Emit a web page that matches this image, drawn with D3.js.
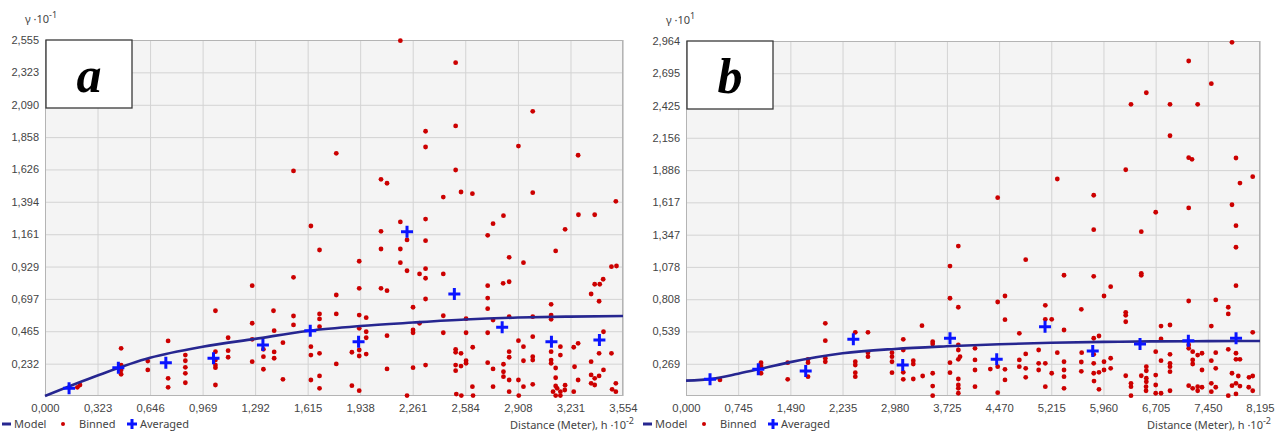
<!DOCTYPE html>
<html>
<head>
<meta charset="utf-8">
<script src="https://cdn.jsdelivr.net/npm/d3@7"></script>
<style>
  html, body { margin: 0; padding: 0; background: #fff; }
  svg { display: block; font-family: "Noto Sans", "Open Sans", sans-serif; }
</style>
</head>
<body>
<div id="chart"></div>
<script>
// Panel a: semivariogram (γ ·10^-1 vs distance h ·10^-2)
const xTicksA = [0, 0.323, 0.646, 0.969, 1.292, 1.615, 1.938, 2.261, 2.584, 2.908, 3.231, 3.554];
const yTicksA = [0.232, 0.465, 0.697, 0.929, 1.161, 1.394, 1.626, 1.858, 2.090, 2.323, 2.555];
const modelA = [[0, 0], [0.323, 0.147], [0.646, 0.274], [0.969, 0.353], [1.292, 0.41], [1.615, 0.467],
  [1.938, 0.502], [2.261, 0.527], [2.584, 0.549], [2.908, 0.563], [3.231, 0.570], [3.554, 0.574]];
const averagedA = [[0.148, 0.055], [0.451, 0.203], [0.743, 0.239], [1.036, 0.271], [1.340, 0.366], [1.631, 0.469],
  [1.928, 0.390], [2.226, 1.179], [2.517, 0.732], [2.811, 0.493], [3.114, 0.390], [3.409, 0.402]];
const binnedA = [
  [1.528,1.615],[1.635,1.220],[1.688,1.048],[1.528,0.852],[1.274,0.792],[1.405,0.612],[1.048,0.612],[1.528,0.574],
  [1.688,0.589],[1.688,0.553],[1.688,0.497],[1.528,0.510],[1.274,0.522],[1.409,0.469],[1.463,0.383],[1.635,0.354],
  [1.126,0.418],[1.274,0.407],[1.343,0.335],[1.409,0.316],[1.126,0.325],[1.126,0.278],[1.343,0.282],[1.409,0.271],
  [1.635,0.294],[1.688,0.306],[1.274,0.246],[1.048,0.318],[1.048,0.258],[1.048,0.222],[1.048,0.203],[0.863,0.294],
  [0.863,0.253],[0.863,0.206],[0.863,0.163],[0.757,0.395],[0.632,0.251],[0.632,0.187],[0.468,0.342],[0.468,0.222],
  [0.468,0.156],[0.757,0.127],[0.757,0.062],[0.863,0.095],[1.048,0.079],[1.343,0.192],[1.463,0.120],[1.635,0.115],
  [1.688,0.144],[1.688,0.055],[0.215,0.079],[0.199,0.062],[0.468,0.187],
  [2.185,2.550],[2.525,2.392],[2.999,2.043],[2.340,1.900],[2.525,1.938],[2.340,1.787],[2.911,1.794],[3.278,1.728],
  [1.791,1.742],[2.525,1.622],[2.066,1.555],[2.103,1.527],[2.449,1.428],[2.558,1.464],[2.628,1.452],[2.999,1.459],
  [3.510,1.397],[2.819,1.294],[2.755,1.237],[3.280,1.301],[3.380,1.301],[2.340,1.270],[2.185,1.249],[2.066,1.182],
  [2.722,1.153],[3.198,1.196],[2.226,1.120],[2.340,1.115],[2.066,1.055],[2.185,1.055],[3.140,1.041],[2.854,0.995],
  [2.942,0.957],[2.185,0.957],[1.932,0.967],[2.226,0.899],[2.340,0.914],[2.340,0.845],[2.303,0.876],[2.449,0.876],
  [3.483,0.928],[3.514,0.933],[3.432,0.838],[3.380,0.802],[3.411,0.802],[2.817,0.809],[2.854,0.820],[2.722,0.792],
  [2.066,0.773],[2.103,0.756],[1.932,0.773],[1.791,0.725],[3.358,0.732],[3.407,0.680],[2.340,0.696],[2.722,0.703],
  [3.112,0.658],[2.263,0.637],[2.722,0.627],[1.791,0.589],[1.932,0.581],[1.975,0.562],[2.449,0.576],[2.854,0.569],
  [2.999,0.569],[3.112,0.581],[3.112,0.550],[2.755,0.545],[2.589,0.555],[2.303,0.522],[1.932,0.486],[1.975,0.461],
  [2.263,0.474],[2.263,0.454],[2.449,0.454],[2.589,0.454],[2.722,0.454],[3.434,0.461],[2.103,0.433],[1.975,0.418],
  [2.911,0.397],[2.942,0.354],[2.999,0.426],[3.278,0.378],[3.251,0.350],[3.169,0.354],[3.169,0.294],[3.407,0.306],
  [3.483,0.306],[2.630,0.350],[2.525,0.335],[2.525,0.314],[2.558,0.306],[2.589,0.253],[2.589,0.235],[2.525,0.222],
  [2.558,0.215],[2.525,0.182],[1.932,0.330],[1.932,0.287],[1.887,0.314],[1.975,0.301],[1.791,0.230],[2.103,0.194],
  [2.263,0.203],[2.340,0.222],[2.722,0.239],[2.755,0.194],[2.819,0.228],[2.819,0.174],[2.854,0.318],[2.854,0.278],
  [2.942,0.253],[2.999,0.282],[2.999,0.258],[3.112,0.258],[3.112,0.235],[3.140,0.201],[3.256,0.210],[3.358,0.246],
  [3.358,0.151],[3.380,0.127],[3.407,0.144],[3.434,0.187],[3.278,0.115],[3.198,0.077],[3.140,0.131],[3.140,0.072],
  [2.999,0.084],[2.854,0.115],[2.819,0.139],[2.911,0.115],[2.942,0.067],[2.755,0.067],[2.628,0.067],[1.887,0.074],
  [3.510,0.091],[3.358,0.091],[3.380,0.079],[2.226,0.003],[2.529,0.014],[2.560,0.003],[2.632,0.003],[2.854,0.031],
  [2.913,0.003],[3.124,0.031],[3.140,0.003],[3.169,0.031],[3.169,0.003],[3.196,0.043],[3.251,0.031],[3.487,0.048],
  [3.510,0.031],[1.932,0.038],[3.149,0.055],[3.112,0.318]
];

// Panel b: semivariogram (γ ·10^1 vs distance h ·10^-2)
const xTicksB = [0, 0.745, 1.490, 2.235, 2.980, 3.725, 4.470, 5.215, 5.960, 6.705, 7.450, 8.195];
const yTicksB = [0.269, 0.539, 0.808, 1.078, 1.347, 1.617, 1.886, 2.156, 2.425, 2.695, 2.964];
const modelB = [[0, 0.128], [0.373, 0.143], [0.745, 0.186], [1.118, 0.234], [1.490, 0.283], [2.235, 0.357],
  [2.980, 0.393], [3.725, 0.415], [4.470, 0.432], [5.215, 0.445], [5.960, 0.452], [6.705, 0.456],
  [7.450, 0.458], [8.195, 0.459]];
const averagedB = [[0.343, 0.139], [1.032, 0.223], [1.709, 0.209], [2.389, 0.473], [3.094, 0.259], [3.769, 0.482],
  [4.436, 0.306], [5.126, 0.578], [5.807, 0.376], [6.482, 0.434], [7.172, 0.462], [7.853, 0.482]];
const binnedB = [
  [3.888,1.252],[3.769,1.085],[3.769,0.816],[3.888,0.741],[3.369,0.587],[1.989,0.607],[1.989,0.462],[2.598,0.532],
  [2.417,0.532],[2.598,0.362],[2.598,0.328],[3.102,0.473],[3.102,0.384],[3.522,0.453],[3.522,0.434],[3.888,0.426],
  [3.888,0.384],[3.888,0.306],[3.769,0.278],[3.769,0.195],[2.941,0.362],[2.941,0.328],[2.941,0.286],[2.941,0.195],
  [3.245,0.295],[3.245,0.267],[3.102,0.198],[3.102,0.139],[3.245,0.142],[3.379,0.167],[3.522,0.190],[3.522,0.083],
  [3.888,0.142],[3.888,0.092],[3.888,0.064],[2.417,0.286],[2.417,0.259],[2.417,0.195],[2.417,0.161],[1.989,0.315],
  [1.989,0.286],[1.742,0.306],[1.742,0.278],[1.742,0.161],[1.452,0.278],[1.452,0.139],[1.071,0.278],[1.071,0.250],
  [1.071,0.190],[0.485,0.134],[3.522,0.003],[3.888,0.023],
  [7.795,2.953],[7.177,2.797],[7.500,2.608],[6.572,2.532],[6.353,2.435],[6.910,2.435],[7.305,2.435],[6.910,2.173],
  [7.177,1.990],[7.224,1.976],[7.852,1.987],[6.278,1.889],[8.091,1.831],[7.909,1.778],[5.301,1.812],[4.450,1.656],
  [5.821,1.676],[7.795,1.597],[7.177,1.570],[6.706,1.534],[7.852,1.422],[5.821,1.389],[6.500,1.372],[7.852,1.242],
  [4.850,1.138],[5.397,1.008],[5.821,0.999],[6.500,1.024],[6.500,1.008],[7.852,0.921],[6.063,0.913],[5.968,0.835],
  [4.554,0.835],[4.450,0.785],[7.177,0.793],[7.563,0.802],[5.130,0.757],[5.644,0.724],[6.278,0.699],[6.278,0.674],
  [6.278,0.620],[7.742,0.741],[7.742,0.685],[4.554,0.637],[5.130,0.640],[5.221,0.640],[4.759,0.523],[5.397,0.551],
  [6.782,0.584],[6.910,0.593],[7.500,0.584],[8.091,0.532],[5.896,0.501],[5.821,0.482],[6.782,0.476],[7.177,0.426],
  [7.177,0.398],[4.126,0.398],[5.035,0.384],[5.301,0.362],[4.850,0.351],[5.649,0.362],[5.821,0.348],[6.706,0.370],
  [6.910,0.348],[7.234,0.370],[7.305,0.342],[7.367,0.357],[7.563,0.362],[7.742,0.390],[7.852,0.357],[7.852,0.306],
  [7.909,0.306],[4.126,0.301],[3.912,0.328],[4.345,0.225],[4.450,0.245],[4.554,0.223],[4.759,0.301],[4.759,0.245],
  [4.850,0.231],[5.035,0.273],[5.130,0.273],[5.035,0.217],[5.397,0.286],[5.397,0.217],[5.397,0.161],[5.644,0.284],
  [5.821,0.273],[5.644,0.206],[5.968,0.286],[6.063,0.315],[5.968,0.217],[6.063,0.231],[5.896,0.198],[6.278,0.169],
  [6.500,0.169],[6.572,0.245],[6.572,0.211],[6.572,0.148],[6.572,0.119],[6.706,0.175],[6.706,0.092],[6.782,0.295],
  [6.910,0.273],[6.910,0.245],[6.910,0.203],[7.234,0.301],[7.234,0.267],[7.367,0.217],[7.500,0.295],[7.563,0.231],
  [7.795,0.190],[7.885,0.167],[8.038,0.156],[8.091,0.167],[7.177,0.086],[7.234,0.064],[7.305,0.078],[7.795,0.086],
  [7.852,0.106],[7.909,0.083],[7.500,0.106],[6.353,0.106],[6.353,0.078],[4.126,0.078],[4.554,0.134],[4.450,0.028],
  [5.130,0.078],[5.397,0.064],[5.896,0.056],[6.353,0.003],[6.568,0.078],[6.568,0.044],[6.706,0.023],[6.910,0.044],
  [7.305,0.044],[7.367,0.073],[7.563,0.073],[7.742,0.003],[7.852,0.017],[8.034,0.073],[8.091,0.044],[6.782,0.023],
  [7.500,0.036],[5.825,0.125],[4.126,0.217],[4.850,0.156],[5.221,0.190],[5.821,0.190]
];

const legendLabels = ["Model", "Binned", "Averaged"];

const width = 1287, height = 433;
const colors = { plotBg: "#f4f4f4", grid: "#d3d3d3", border: "#b4b4b4", text: "#444",
  model: "#262690", binned: "#cc0000", averaged: "#0a14ff" };

const panels = [
  { letter: "a", frame: { left: 45, right: 623, top: 40, bottom: 396 }, yExp: "-1",
    xTicks: xTicksA, yTicks: yTicksA, model: modelA, averaged: averagedA, binned: binnedA },
  { letter: "b", frame: { left: 686, right: 1260, top: 41, bottom: 396 }, yExp: "1",
    xTicks: xTicksB, yTicks: yTicksB, model: modelB, averaged: averagedB, binned: binnedB }
];

const svg = d3.select("#chart").append("svg")
  .attr("width", width)
  .attr("height", height);

const fmt = d => d3.format(".3f")(d).replace(".", ",");
const crossPath = s => `M${-s},0H${s}M0,${-s}V${s}`;

panels.forEach(drawPanel);

function drawPanel(p) {
  const f = p.frame;
  const x = d3.scaleLinear().domain([0, p.xTicks[p.xTicks.length - 1]]).range([f.left, f.right]);
  const y = d3.scaleLinear().domain([0, p.yTicks[p.yTicks.length - 1]]).range([f.bottom, f.top]);
  const g = svg.append("g");

  g.append("rect")
    .attr("x", f.left).attr("y", f.top)
    .attr("width", f.right - f.left).attr("height", f.bottom - f.top)
    .attr("fill", colors.plotBg);

  // grid + tick labels
  g.append("g")
    .attr("transform", `translate(0,${f.bottom})`)
    .call(d3.axisBottom(x).tickValues(p.xTicks).tickFormat(fmt)
      .tickSize(-(f.bottom - f.top)).tickPadding(8))
    .call(s => s.select(".domain").remove())
    .call(s => s.selectAll(".tick line").attr("stroke", colors.grid))
    .call(s => s.selectAll(".tick text").attr("fill", colors.text)
      .attr("font-size", 11.3).attr("font-family", null));

  g.append("g")
    .attr("transform", `translate(${f.left},0)`)
    .call(d3.axisLeft(y).tickValues(p.yTicks).tickFormat(fmt)
      .tickSize(-(f.right - f.left)).tickPadding(6))
    .call(s => s.select(".domain").remove())
    .call(s => s.selectAll(".tick line").attr("stroke", colors.grid))
    .call(s => s.selectAll(".tick text").attr("fill", colors.text)
      .attr("font-size", 11).attr("font-family", null));

  g.append("rect")
    .attr("x", f.left + 0.5).attr("y", f.top + 0.5)
    .attr("width", f.right - f.left - 1).attr("height", f.bottom - f.top - 1)
    .attr("fill", "none").attr("stroke", colors.border);

  // binned points
  g.append("g").selectAll("circle")
    .data(p.binned)
    .join("circle")
    .attr("cx", d => x(d[0]))
    .attr("cy", d => y(d[1]))
    .attr("r", 2.4)
    .attr("fill", colors.binned);

  // model curve
  g.append("path")
    .datum(p.model)
    .attr("d", d3.line().x(d => x(d[0])).y(d => y(d[1])).curve(d3.curveMonotoneX))
    .attr("fill", "none")
    .attr("stroke", colors.model)
    .attr("stroke-width", 2.6);

  // averaged crosses
  g.append("g").selectAll("path")
    .data(p.averaged)
    .join("path")
    .attr("transform", d => `translate(${x(d[0])},${y(d[1])})`)
    .attr("d", crossPath(6))
    .attr("stroke", colors.averaged)
    .attr("stroke-width", 3);

  // letter box
  g.append("rect")
    .attr("x", f.left + 1).attr("y", f.top)
    .attr("width", 86).attr("height", 68)
    .attr("fill", "#fff").attr("stroke", "#3a3a3a").attr("stroke-width", 1.3);
  g.append("text")
    .attr("x", f.left + 44).attr("y", f.top + 52)
    .attr("text-anchor", "middle")
    .attr("font-family", "'Liberation Serif', 'Times New Roman', serif")
    .attr("font-style", "italic").attr("font-weight", "bold")
    .attr("font-size", 50).attr("fill", "#000")
    .text(p.letter);

  // y title
  const yt = g.append("text")
    .attr("x", f.left - 20).attr("y", f.top - 17)
    .attr("font-size", 11).attr("fill", colors.text);
  yt.append("tspan").text("γ ·10");
  yt.append("tspan").attr("dy", -5).attr("font-size", 9).text(p.yExp);

  // x title
  const xt = g.append("text")
    .attr("x", f.right + 11).attr("y", 429)
    .attr("text-anchor", "end")
    .attr("font-size", 11).attr("fill", colors.text);
  xt.append("tspan").text("Distance (Meter), h ·10");
  xt.append("tspan").attr("dy", -5).attr("font-size", 9).text("-2");

  // legend
  const lg = g.append("g").attr("transform", `translate(${f.left - 45},424)`);
  lg.append("line").attr("x1", 2).attr("x2", 11).attr("y1", 0).attr("y2", 0)
    .attr("stroke", colors.model).attr("stroke-width", 3);
  lg.append("circle").attr("cx", 63).attr("cy", 0).attr("r", 2).attr("fill", colors.binned);
  lg.append("path").attr("transform", "translate(132,0)").attr("d", crossPath(5))
    .attr("stroke", colors.averaged).attr("stroke-width", 3);
  lg.selectAll("text.leg")
    .data(legendLabels)
    .join("text")
    .attr("class", "leg")
    .attr("x", (d, i) => [14, 79, 140][i])
    .attr("y", 4)
    .attr("font-size", 11)
    .attr("fill", colors.text)
    .text(d => d);
}
</script>
</body>
</html>
